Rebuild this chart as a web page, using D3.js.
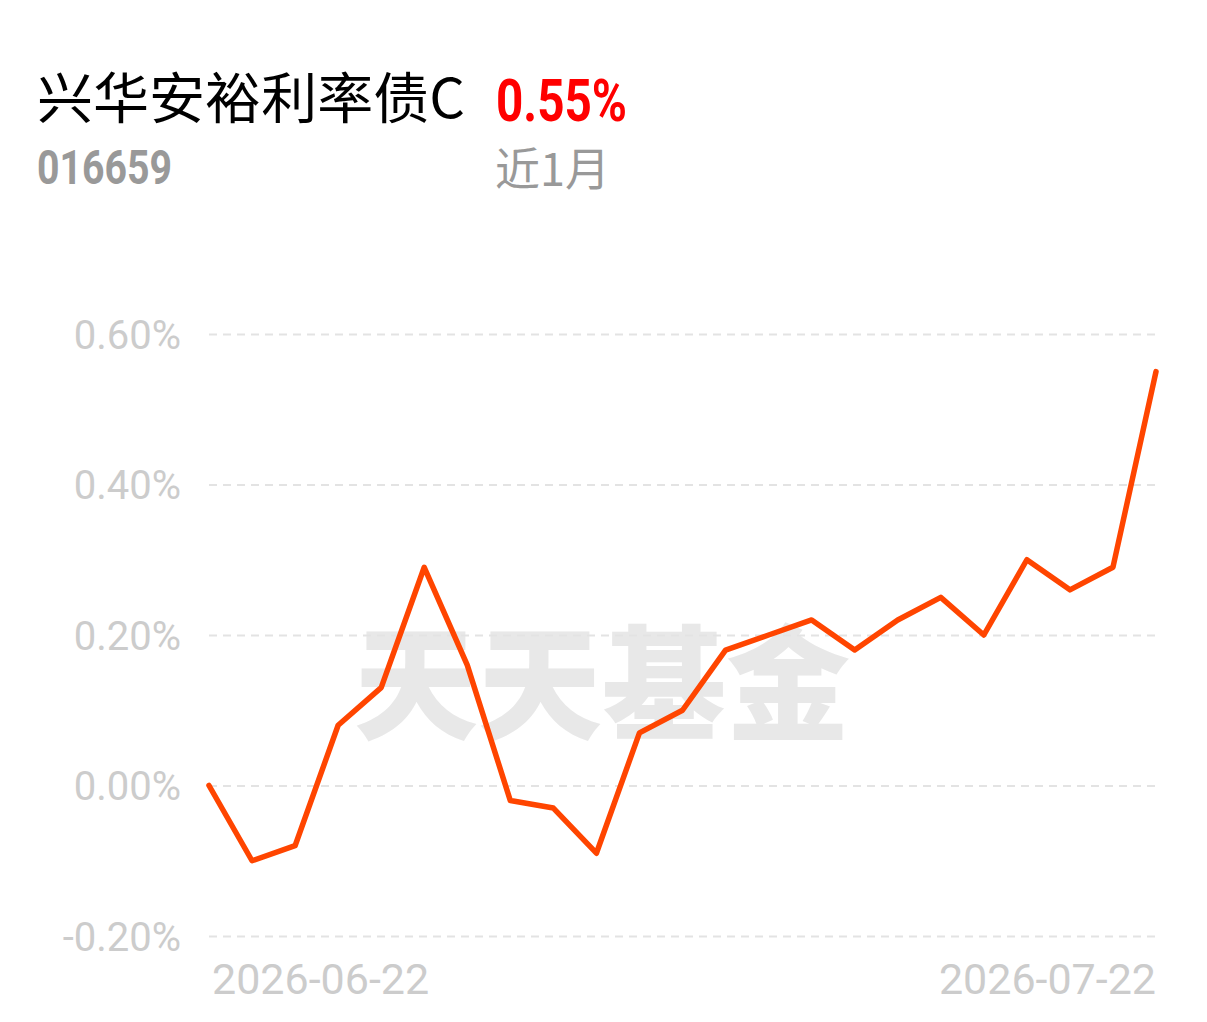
<!DOCTYPE html>
<html><head><meta charset="utf-8">
<script src="https://cdn.jsdelivr.net/npm/d3@7"></script>
<style>html,body{margin:0;padding:0;background:#fff;}svg{display:block;}</style>
</head><body>
<div id="chart"></div>
<script>
const fundName = "兴华安裕利率债C";
const fundCode = "016659";
const periodReturn = "0.55%";
const periodLabel = "近1月";
const watermark = "天天基金";
const dates = ["2026-06-22","2026-06-23","2026-06-24","2026-06-25","2026-06-26","2026-06-29","2026-06-30","2026-07-01","2026-07-02","2026-07-03","2026-07-06","2026-07-07","2026-07-08","2026-07-09","2026-07-10","2026-07-13","2026-07-14","2026-07-15","2026-07-16","2026-07-17","2026-07-20","2026-07-21","2026-07-22"];
const values = [0.00,-0.10,-0.08,0.08,0.13,0.29,0.16,-0.02,-0.03,-0.09,0.07,0.10,0.18,0.20,0.22,0.18,0.22,0.25,0.20,0.30,0.26,0.29,0.55];
const yTicks = [0.60,0.40,0.20,0.00,-0.20];
const xTickLabels = ["2026-06-22","2026-07-22"];

const W = 1207, H = 1022;
const svg = d3.select("#chart").append("svg").attr("width", W).attr("height", H);

const x = d3.scalePoint().domain(dates).range([209, 1156]);
const y = d3.scaleLinear().domain([-0.20, 0.60]).range([936, 334]);

// header
svg.append("text").attr("x", 37).attr("y", 118).text(fundName)
  .attr("font-family", "'Noto Sans CJK SC', sans-serif").attr("font-size", 55)
  .attr("textLength", 428).attr("lengthAdjust", "spacingAndGlyphs").attr("fill", "#000");
svg.append("text").attr("x", 496).attr("y", 121).text(periodReturn)
  .attr("font-family", "Roboto, sans-serif").attr("font-weight", 700).attr("font-size", 60)
  .attr("textLength", 131).attr("lengthAdjust", "spacingAndGlyphs").attr("fill", "#ff0000");
svg.append("text").attr("x", 37).attr("y", 184).text(fundCode)
  .attr("font-family", "Roboto, sans-serif").attr("font-weight", 700).attr("font-size", 48)
  .attr("textLength", 135).attr("lengthAdjust", "spacingAndGlyphs").attr("fill", "#999");
svg.append("text").attr("x", 495).attr("y", 186).text(periodLabel)
  .attr("font-family", "'Noto Sans CJK SC', sans-serif").attr("font-size", 45).attr("fill", "#999");

// watermark
svg.append("text").attr("x", 602).attr("y", 730).attr("text-anchor", "middle").text(watermark)
  .attr("font-family", "'Noto Sans CJK SC', sans-serif").attr("font-weight", 900).attr("font-size", 124)
  .attr("fill", "#e8e8e8");

// grid
const yAxis = d3.axisLeft(y).tickValues(yTicks).tickSize(-(1156 - 209)).tickPadding(28)
  .tickFormat(d => d.toFixed(2) + "%");
const gy = svg.append("g").attr("transform", "translate(209,0)").call(yAxis);
gy.select(".domain").remove();
gy.selectAll(".tick line").attr("stroke", "#e3e3e3").attr("stroke-width", 2).attr("stroke-dasharray", "8,6");
gy.selectAll(".tick text").attr("font-family", "Roboto, sans-serif").attr("font-size", 40)
  .attr("fill", "#cccccc").attr("x", -28).attr("dy", "0.36em");

// x labels
const xl = svg.append("g");
xl.append("text").attr("x", x(dates[0]) + 3).attr("y", 994).text(xTickLabels[0]).attr("text-anchor", "start");
xl.append("text").attr("x", x(dates[dates.length-1])).attr("y", 994).text(xTickLabels[1]).attr("text-anchor", "end");
xl.selectAll("text").attr("font-family", "Roboto, sans-serif").attr("font-size", 43).attr("fill", "#cccccc");

// line
const line = d3.line().x((d,i) => x(dates[i])).y(d => y(d));
svg.append("path").datum(values).attr("d", line).attr("fill", "none")
  .attr("stroke", "#ff4500").attr("stroke-width", 5.5).attr("stroke-linejoin", "round").attr("stroke-linecap", "round");
</script>
</body></html>
